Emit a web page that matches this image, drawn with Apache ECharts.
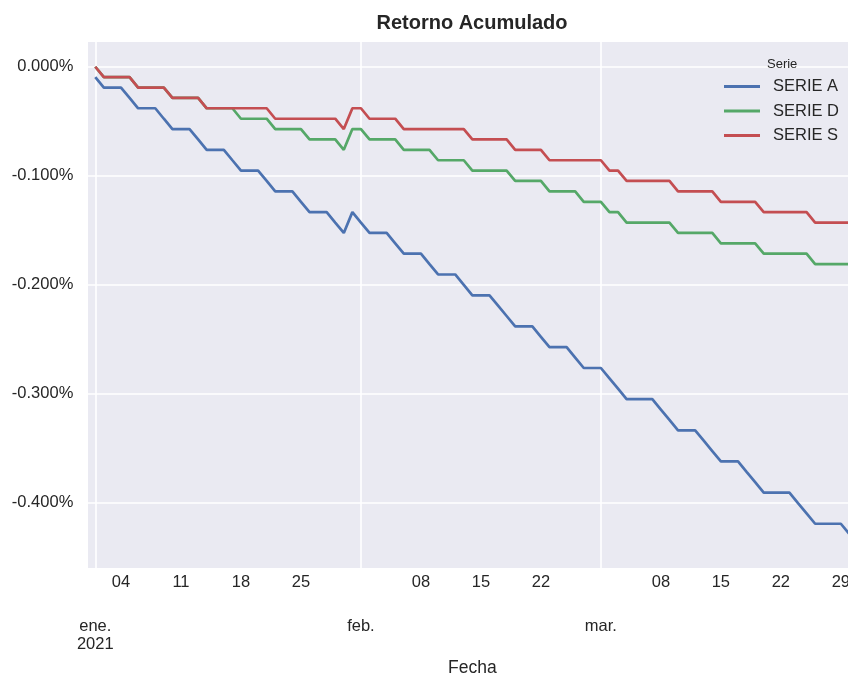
<!DOCTYPE html>
<html><head><meta charset="utf-8">
<script src="https://cdn.jsdelivr.net/npm/echarts@6/dist/echarts.min.js"></script>
<style>html,body{margin:0;padding:0;background:#fff}#c{width:848px;height:675px}</style>
</head><body><div id="c"></div>
<script>
// ---- data ----
const startDate = '2021-01-01';
const endDate = '2021-03-30';
const seriesNames = ['SERIE A', 'SERIE D', 'SERIE S'];
const serieA = [
-0.0095,-0.0191,-0.0191,-0.0191,-0.0286,-0.0381,-0.0381,-0.0381,-0.0477,-0.0572,
-0.0572,-0.0572,-0.0667,-0.0762,-0.0762,-0.0762,-0.0858,-0.0953,-0.0953,-0.0953,
-0.1048,-0.1144,-0.1144,-0.1144,-0.1239,-0.1334,-0.1334,-0.1334,-0.1430,-0.1525,
-0.1334,-0.1430,-0.1525,-0.1525,-0.1525,-0.1620,-0.1715,-0.1715,-0.1715,-0.1811,
-0.1906,-0.1906,-0.1906,-0.2001,-0.2097,-0.2097,-0.2097,-0.2192,-0.2287,-0.2383,
-0.2383,-0.2383,-0.2478,-0.2573,-0.2573,-0.2573,-0.2668,-0.2764,-0.2764,-0.2764,
-0.2859,-0.2954,-0.3050,-0.3050,-0.3050,-0.3050,-0.3145,-0.3240,-0.3336,-0.3336,
-0.3336,-0.3431,-0.3526,-0.3621,-0.3621,-0.3621,-0.3717,-0.3812,-0.3907,-0.3907,
-0.3907,-0.3907,-0.4003,-0.4098,-0.4193,-0.4193,-0.4193,-0.4193,-0.4289
];
const serieD = [
0,-0.0095,-0.0095,-0.0095,-0.0095,-0.0191,-0.0191,-0.0191,-0.0191,-0.0286,
-0.0286,-0.0286,-0.0286,-0.0381,-0.0381,-0.0381,-0.0381,-0.0477,-0.0477,-0.0477,
-0.0477,-0.0572,-0.0572,-0.0572,-0.0572,-0.0667,-0.0667,-0.0667,-0.0667,-0.0762,
-0.0572,-0.0572,-0.0667,-0.0667,-0.0667,-0.0667,-0.0762,-0.0762,-0.0762,-0.0762,
-0.0858,-0.0858,-0.0858,-0.0858,-0.0953,-0.0953,-0.0953,-0.0953,-0.0953,-0.1048,
-0.1048,-0.1048,-0.1048,-0.1144,-0.1144,-0.1144,-0.1144,-0.1239,-0.1239,-0.1239,
-0.1334,-0.1334,-0.1430,-0.1430,-0.1430,-0.1430,-0.1430,-0.1430,-0.1525,-0.1525,
-0.1525,-0.1525,-0.1525,-0.1620,-0.1620,-0.1620,-0.1620,-0.1620,-0.1715,-0.1715,
-0.1715,-0.1715,-0.1715,-0.1715,-0.1811,-0.1811,-0.1811,-0.1811,-0.1811
];
const serieS = [
0,-0.0095,-0.0095,-0.0095,-0.0095,-0.0191,-0.0191,-0.0191,-0.0191,-0.0286,
-0.0286,-0.0286,-0.0286,-0.0381,-0.0381,-0.0381,-0.0381,-0.0381,-0.0381,-0.0381,
-0.0381,-0.0477,-0.0477,-0.0477,-0.0477,-0.0477,-0.0477,-0.0477,-0.0477,-0.0572,
-0.0381,-0.0381,-0.0477,-0.0477,-0.0477,-0.0477,-0.0572,-0.0572,-0.0572,-0.0572,
-0.0572,-0.0572,-0.0572,-0.0572,-0.0667,-0.0667,-0.0667,-0.0667,-0.0667,-0.0762,
-0.0762,-0.0762,-0.0762,-0.0858,-0.0858,-0.0858,-0.0858,-0.0858,-0.0858,-0.0858,
-0.0953,-0.0953,-0.1048,-0.1048,-0.1048,-0.1048,-0.1048,-0.1048,-0.1144,-0.1144,
-0.1144,-0.1144,-0.1144,-0.1239,-0.1239,-0.1239,-0.1239,-0.1239,-0.1334,-0.1334,
-0.1334,-0.1334,-0.1334,-0.1334,-0.1430,-0.1430,-0.1430,-0.1430,-0.1430
];
const yTicks = [0, -0.1, -0.2, -0.3, -0.4];
const weekTickDates = ['2021-01-04','2021-01-11','2021-01-18','2021-01-25','2021-02-08','2021-02-15','2021-02-22','2021-03-08','2021-03-15','2021-03-22','2021-03-29'];
const weekTickLabels = ['04','11','18','25','08','15','22','08','15','22','29'];
const monthTickDates = ['2021-01-01','2021-02-01','2021-03-01'];
const monthTickLabels = ['ene.\n2021','feb.','mar.'];

// ---- helpers ----
const FONT = 'Liberation Sans, Arial, sans-serif';
const TXT = '#262626';
const origin = startDate.split('-').map(Number);
function idx(s) {
  const p = s.split('-').map(Number);
  return (Date.UTC(p[0], p[1] - 1, p[2]) - Date.UTC(origin[0], origin[1] - 1, origin[2])) / 86400000;
}
const nDays = idx(endDate) + 1;
const dates = [];
for (let i = 0; i < nDays; i++) {
  dates.push(new Date(Date.UTC(origin[0], origin[1] - 1, origin[2] + i)).toISOString().slice(0, 10));
}
const weekVals = weekTickDates.map(idx);
const monthVals = monthTickDates.map(idx);
function lookup(vals, labels, v) {
  for (let i = 0; i < vals.length; i++) if (Math.abs(vals[i] - v) < 1e-6) return labels[i];
  return '';
}
const xMin = -0.85, xMax = nDays - 1 + 0.85;

const colors = ['#4C72B0', '#55A868', '#C44E52'];
const allSeries = [serieA, serieD, serieS];

const chart = echarts.init(document.getElementById('c'), null, { renderer: 'canvas' });
chart.setOption({
  animation: false,
  backgroundColor: '#ffffff',
  title: [
    { text: 'Retorno Acumulado', left: 472, textAlign: 'center', top: 13.5, padding: 0,
      textStyle: { fontFamily: FONT, fontSize: 20, fontWeight: 'bold', color: TXT } },
    { text: 'Serie', left: 767, top: 58, padding: 0,
      textStyle: { fontFamily: FONT, fontSize: 13, fontWeight: 'normal', color: TXT } }
  ],
  legend: {
    data: seriesNames, orient: 'vertical', left: 724, top: 78,
    icon: 'rect', itemWidth: 36, itemHeight: 3, itemGap: 7.5, padding: 0,
    textStyle: { fontFamily: FONT, fontSize: 16.5, color: TXT, lineHeight: 17, padding: [0, 0, 0, 8] }
  },
  grid: { left: 88, right: -8.7, top: 42, bottom: 107, show: true, backgroundColor: '#EAEAF2', borderWidth: 0,
    containLabel: false, outerBoundsMode: 'none' },
  xAxis: [
    { type: 'value', min: xMin, max: xMax, position: 'bottom',
      axisLine: { show: false }, axisTick: { show: false, customValues: weekVals },
      splitLine: { show: false },
      axisLabel: { customValues: weekVals, margin: 6, fontFamily: FONT, fontSize: 16.5, color: TXT,
        formatter: v => lookup(weekVals, weekTickLabels, v) },
      name: 'Fecha', nameLocation: 'middle', nameGap: 91,
      nameTextStyle: { fontFamily: FONT, fontSize: 17.5, color: TXT } },
    { type: 'value', min: xMin, max: xMax, position: 'bottom',
      axisLine: { show: false }, axisTick: { show: false, customValues: monthVals },
      splitLine: { show: true, lineStyle: { color: '#ffffff', width: 1.6 } },
      axisLabel: { customValues: monthVals, margin: 49, fontFamily: FONT, fontSize: 16.5, color: TXT, lineHeight: 18, align: 'center',
        formatter: v => lookup(monthVals, monthTickLabels, v) } }
  ],
  yAxis: {
    type: 'value', min: -0.4599, max: 0.0227,
    axisLine: { show: false }, axisTick: { show: false, customValues: yTicks },
    splitLine: { show: true, lineStyle: { color: '#ffffff', width: 1.6 } },
    axisLabel: { customValues: yTicks, margin: 14.7, fontFamily: FONT, fontSize: 16.5, color: TXT,
      formatter: v => (Math.abs(v) < 1e-9 ? 0 : v).toFixed(3) + '%' }
  },
  series: allSeries.map((vals, k) => ({
    name: seriesNames[k], type: 'line', xAxisIndex: 0, yAxisIndex: 0,
    showSymbol: false, symbol: 'none', color: colors[k],
    lineStyle: { color: colors[k], width: 2.7 },
    emphasis: { disabled: true },
    data: vals.map((v, i) => [idx(dates[i]), v])
  }))
});
</script></body></html>
